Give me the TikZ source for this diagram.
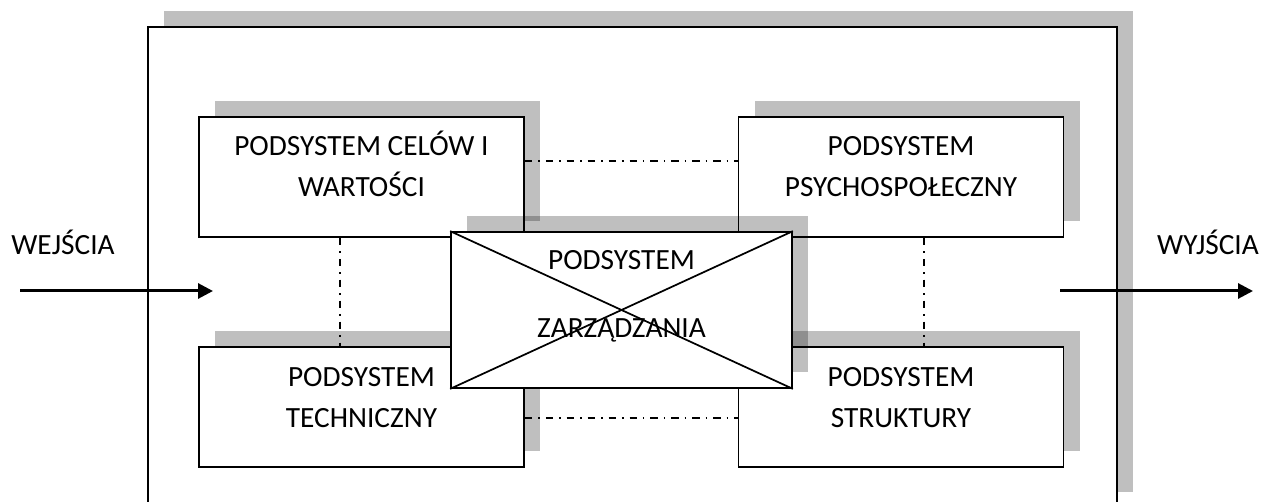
\documentclass[tikz,border=0pt]{standalone}
\usepackage{fontspec}
\setmainfont{Carlito}
\usetikzlibrary{arrows.meta,shadows}
\begin{document}
\begin{tikzpicture}[x=0.75pt,y=-0.75pt,
  box/.style={draw, line width=1.3pt, fill=white, inner sep=0pt,
    minimum width=243.75pt, minimum height=90pt},
  sh/.style={general shadow={fill=black, opacity=0.25,
    shadow xshift=12pt, shadow yshift=12pt}},
  lbl/.style={font=\fontsize{22}{26}\selectfont, anchor=base, inner sep=0pt},
  link/.style={line width=1pt, dash pattern=on 5.5pt off 4.5pt on 1.2pt off 4.5pt},
  flow/.style={line width=2.25pt, -{Triangle[length=11.25pt,width=11.25pt]}}]
\clip (0,0) rectangle (1271,502);
% outer system
\node[box, sh, minimum width=726.75pt, minimum height=360.75pt] (sys) at (632.5,267.5) {};
% corner subsystems
\node[box, sh] (a) at (361.5,177) {};
\node[box, sh] (b) at (901,177) {};
\node[box, sh] (c) at (361.5,407) {};
\node[box, sh] (d) at (901,407) {};
% links
\draw[link] ([xshift=-16.125pt]a.south) -- ([xshift=-16.125pt]c.north);
\draw[link] ([xshift=17.25pt]b.south) -- ([xshift=17.25pt]d.north);
\draw[link] ([yshift=12pt]a.east) -- ([yshift=12pt]b.west);
\draw[link] ([yshift=-8.25pt]c.east) -- ([yshift=-8.25pt]d.west);
% labels of corner boxes
\node[lbl] (a1) at (361.5,156) {PODSYSTEM CELÓW I};
\node[lbl] (a2) at (361.5,197) {WARTOŚCI};
\node[lbl] (b1) at (901,156) {PODSYSTEM};
\node[lbl] (b2) at (901,197) {PSYCHOSPOŁECZNY};
\node[lbl] (c1) at (361.5,386) {PODSYSTEM};
\node[lbl] (c2) at (361.5,427) {TECHNICZNY};
\node[lbl] (d1) at (901,386) {PODSYSTEM};
\node[lbl] (d2) at (901,427) {STRUKTURY};
% management subsystem
\node[box, sh, minimum width=255.75pt, minimum height=117pt] (z) at (621.5,310) {};
\draw[line width=1.3pt] (z.north west) -- (z.south east);
\draw[line width=1.3pt] (z.south west) -- (z.north east);
\node[lbl] (z1) at (621.5,270) {PODSYSTEM};
\node[lbl] (z2) at (621.5,338) {ZARZĄDZANIA};
% inputs / outputs
\node[lbl] (win) at (63,255) {WEJŚCIA};
\node[lbl] (wout) at (1208,255) {WYJŚCIA};
\coordinate (in0) at (20,291);
\coordinate (in1) at (213,291);
\coordinate (out0) at (1060,291);
\coordinate (out1) at (1253,291);
\draw[flow] (in0) -- (in1);
\draw[flow] (out0) -- (out1);
\end{tikzpicture}
\end{document}
